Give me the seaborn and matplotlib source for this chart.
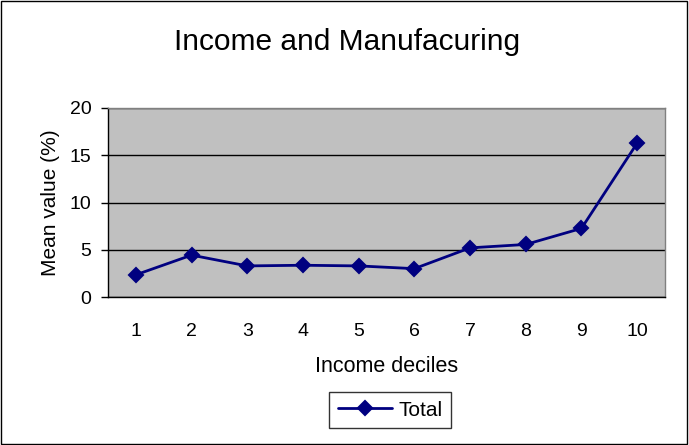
import matplotlib
matplotlib.use("Agg")
import matplotlib.pyplot as plt
import seaborn as sns
import numpy as np
from matplotlib.patches import Rectangle
from matplotlib.ticker import FixedLocator

categories = ["1", "2", "3", "4", "5", "6", "7", "8", "9", "10"]
values = [2.35, 4.43, 3.29, 3.36, 3.29, 3.0, 5.2, 5.56, 7.26, 16.28]
yticks = [0, 5, 10, 15, 20]

sns.set_theme(style="white")
plt.rcParams['font.family'] = ['Liberation Sans', 'DejaVu Sans']
plt.rcParams.update({"text.color": "black", "axes.labelcolor": "black",
                     "xtick.color": "black", "ytick.color": "black"})

fig = plt.figure(figsize=(6.89, 4.45), dpi=100)
ax = fig.add_axes([108/689, 1-297/445, (665-108)/689, (297-108)/445])
ax.set_facecolor("#C0C0C0")

sns.pointplot(x=categories, y=values, ax=ax, color="#000080", markers="D",
              linewidth=2, markersize=7.5, label="Total", errorbar=None)

ax.set_xlim(-0.5, len(categories) - 0.5)
ax.set_ylim(0, 20)
ax.set_yticks(yticks)
ax.set_yticklabels([str(t) for t in yticks], fontsize=14)
ax.yaxis.grid(True, color="black", linewidth=1)
ax.set_axisbelow(True)
ax.set_xticks(range(len(categories)))
ax.set_xticklabels(categories, fontsize=14)
ax.xaxis.set_minor_locator(FixedLocator(np.arange(-0.5, len(categories), 1.0)))
ax.tick_params(axis="x", which="major", length=0, pad=19, colors="black")
ax.tick_params(axis="x", which="minor", length=5, width=1, color="black", direction="out")
ax.tick_params(axis="y", which="major", length=5, width=1, color="black", direction="out", pad=7, left=True)

for s in ["top", "right"]:
    ax.spines[s].set_color("#808080")
    ax.spines[s].set_linewidth(1)
for s in ["left", "bottom"]:
    ax.spines[s].set_color("black")
    ax.spines[s].set_linewidth(1)

ax.set_xlabel("Income deciles", fontsize=15.5, labelpad=11)
ax.set_ylabel("Mean value (%)", fontsize=15, labelpad=7)
fig.text(347/689, 1-42/445, "Income and Manufacuring", ha="center", va="center", fontsize=21.5)

if ax.get_legend() is not None:
    ax.get_legend().remove()
h, l = ax.get_legend_handles_labels()
leg = fig.legend(h[:1], l[:1], loc="center", bbox_to_anchor=(390/689, 1-410/445),
                 frameon=True, fancybox=False, edgecolor="black", fontsize=15,
                 handlelength=2.6, handletextpad=0.3, borderpad=0.4, borderaxespad=0)
leg.get_frame().set_linewidth(1)

fig.patches.append(Rectangle((0.002, 0.003), 0.995, 0.994, transform=fig.transFigure,
                             fill=False, edgecolor="black", linewidth=1))

fig.savefig("out.png", dpi=100)
